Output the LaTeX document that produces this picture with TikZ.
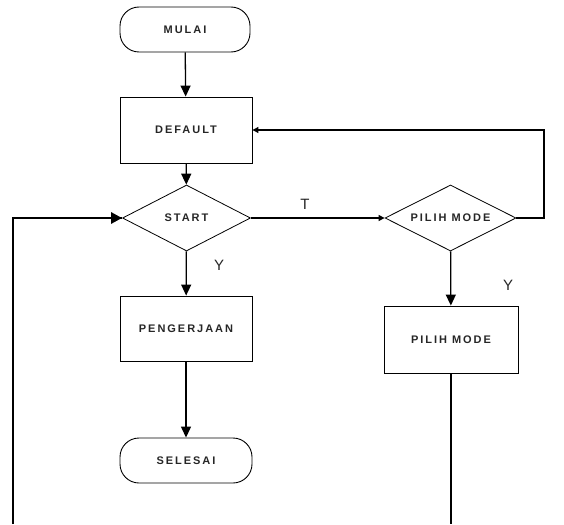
\documentclass[tikz,border=0pt]{standalone}
\usepackage{fontspec}
\setmainfont{Liberation Sans}
\newfontfamily\boxfont[LetterSpace=18]{Liberation Sans}
\usetikzlibrary{shapes.geometric,arrows.meta}
\tikzset{
  every node/.style={inner sep=0pt},
  boxtxt/.style={font=\boxfont\bfseries\fontsize{11}{13}\selectfont, text=black!85},
  procbox/.style={boxtxt, draw, line width=0.9pt, rectangle, minimum width=132pt, minimum height=66pt},
  termbox/.style={boxtxt, draw, line width=0.9pt, rectangle, rounded corners=19pt, minimum width=130pt, minimum height=45pt},
  decbox/.style={draw, line width=0.8pt, diamond, minimum width=128pt, minimum height=66pt},
  flow/.style={line width=1.3pt, -{Triangle[length=11pt,width=10pt]}},
  smallflow/.style={line width=1.1pt, -{Triangle[length=6pt,width=6pt]}},
  plain/.style={line width=1.1pt},
  lbl/.style={font=\fontsize{15}{17}\selectfont, text=black!85}
}
\begin{document}
\begin{tikzpicture}[x=1pt,y=-1pt]
\useasboundingbox (0,0) rectangle (564,524);
\node[termbox] (mulai) at (185,29.5) {MULAI};
\node[procbox] (default) at (186,130) {DEFAULT};
\node[decbox] (start) at (186.5,218) {};
\node[boxtxt] (starttxt) at (start) {START};
\node[procbox, minimum height=65pt] (peng) at (186,328.5) {PENGERJAAN};
\node[termbox, minimum width=132pt] (selesai) at (186,460.5) {SELESAI};
\node[decbox, minimum width=131pt] (pilih) at (450.5,218) {};
\node[boxtxt] (pilihtxt) at (pilih) {PILIH MODE};
\node[procbox, minimum width=134pt, minimum height=67pt] (pmbox) at (451,339.5) {PILIH MODE};
\coordinate (cr) at (544,218);
\coordinate (lbot) at (13,524);
\coordinate (rbot) at (451,524);

\draw[flow] (mulai) -- (default);
\draw[flow] (default) -- (start);
\draw[flow] (start) -- (peng);
\draw[flow] (peng) -- (selesai);
\draw[smallflow] (start.east) -- (pilih.west);
\draw[flow] (pilih) -- (pmbox);
\draw[plain] (pmbox) -- (rbot);
\draw[smallflow] (pilih.east) -- (cr) |- (default.east);
\draw[line width=1.2pt] (lbot) |- (start.west);
\draw[line width=2.6pt, -{Triangle[length=11pt,width=11pt]}] (13,218) -- (start.west);

\node[lbl] (ty) at (219,265) {Y};
\node[lbl] (tt) at (305,204) {T};
\node[lbl] (ty2) at (508,285) {Y};
\end{tikzpicture}
\end{document}
